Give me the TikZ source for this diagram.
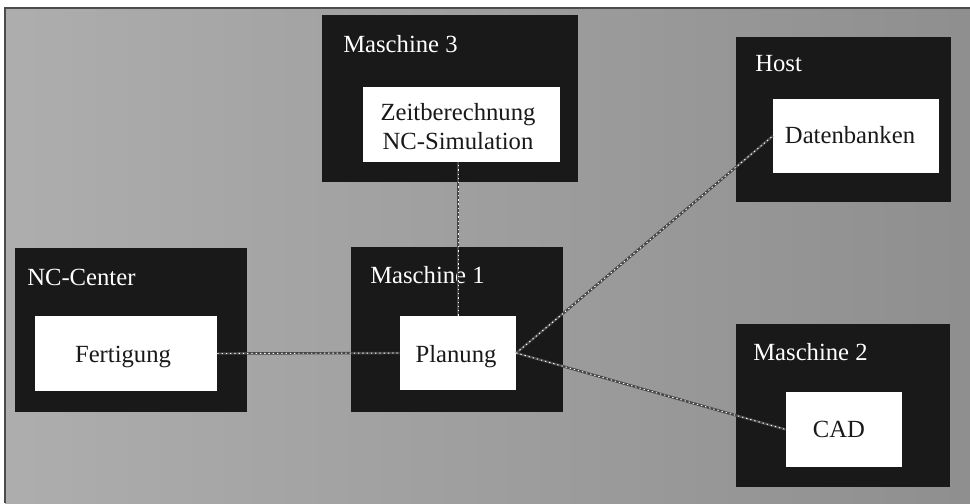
\documentclass[tikz,border=0pt]{standalone}
\usepackage{fontspec}
\setmainfont{Liberation Serif}
\usetikzlibrary{fit}
\begin{document}
\begin{tikzpicture}[x=0.75pt,y=-0.75pt,
  mach/.style={fill=black!90, draw=none, inner sep=0pt},
  inbox/.style={fill=white, draw=none, inner sep=0pt},
  lab/.style={text=white, font=\fontsize{18.5}{22}\selectfont, inner sep=0pt, anchor=base west},
  intext/.style={text=black!90, font=\fontsize{18.5}{21.75}\selectfont, inner sep=0pt, anchor=base},
  link/.style={draw=white, line width=0.7pt, dash pattern=on 1pt off 2.2pt,
    preaction={draw=black!72, line width=1.8pt, solid}}]

\useasboundingbox (0,0) rectangle (970,503);
\fill[white] (0,0) rectangle (970,503);
\shade[left color=black!32, right color=black!44] (5,8) rectangle (970,503);
\draw[black!70, line width=0.8pt] (5,503) -- (5,8) -- (970,8);

% machines
\node[mach, fit={(322,15) (578,182)}] (m3) {};
\node[inbox, fit={(363,87) (560,162)}] (zeit) {};
\node[mach, fit={(736,37) (951,202)}] (host) {};
\node[inbox, fit={(773,99) (939,173)}] (dat) {};
\node[mach, fit={(15,248) (247,412)}] (ncc) {};
\node[inbox, fit={(35,316) (217,391)}] (fert) {};
\node[mach, fit={(351,247) (563,412)}] (m1) {};
\node[inbox, fit={(400,316) (516,390)}] (plan) {};
\node[mach, fit={(736,324) (950,487)}] (m2) {};
\node[inbox, fit={(786,392) (902,467)}] (cad) {};

% labels
\node[lab] (l-m3) at (343,53) {Maschine 3};
\node[lab] (l-host) at (755,72) {Host};
\node[lab] (l-ncc) at (27,285) {NC-Center};
\node[lab] (l-m1) at (370,283) {Maschine 1};
\node[lab] (l-m2) at (753,360) {Maschine 2};

% connectors
\draw[link] (fert.east) -- (plan.west);
\draw[link] (plan.north) -- (plan.north |- zeit.south);
\draw[link] (plan.east) -- (dat.west);
\draw[link] (plan.east) -- (cad.west);

% inner texts
\node[intext, anchor=center, align=center] (t-zeit) at (458,127) {Zeitberechnung\\NC-Simulation};
\node[intext] (t-dat) at (850,143) {Datenbanken};
\node[intext] (t-fert) at (123,362) {Fertigung};
\node[intext] (t-plan) at (456,362) {Planung};
\node[intext] (t-cad) at (839,437) {CAD};
\end{tikzpicture}
\end{document}
